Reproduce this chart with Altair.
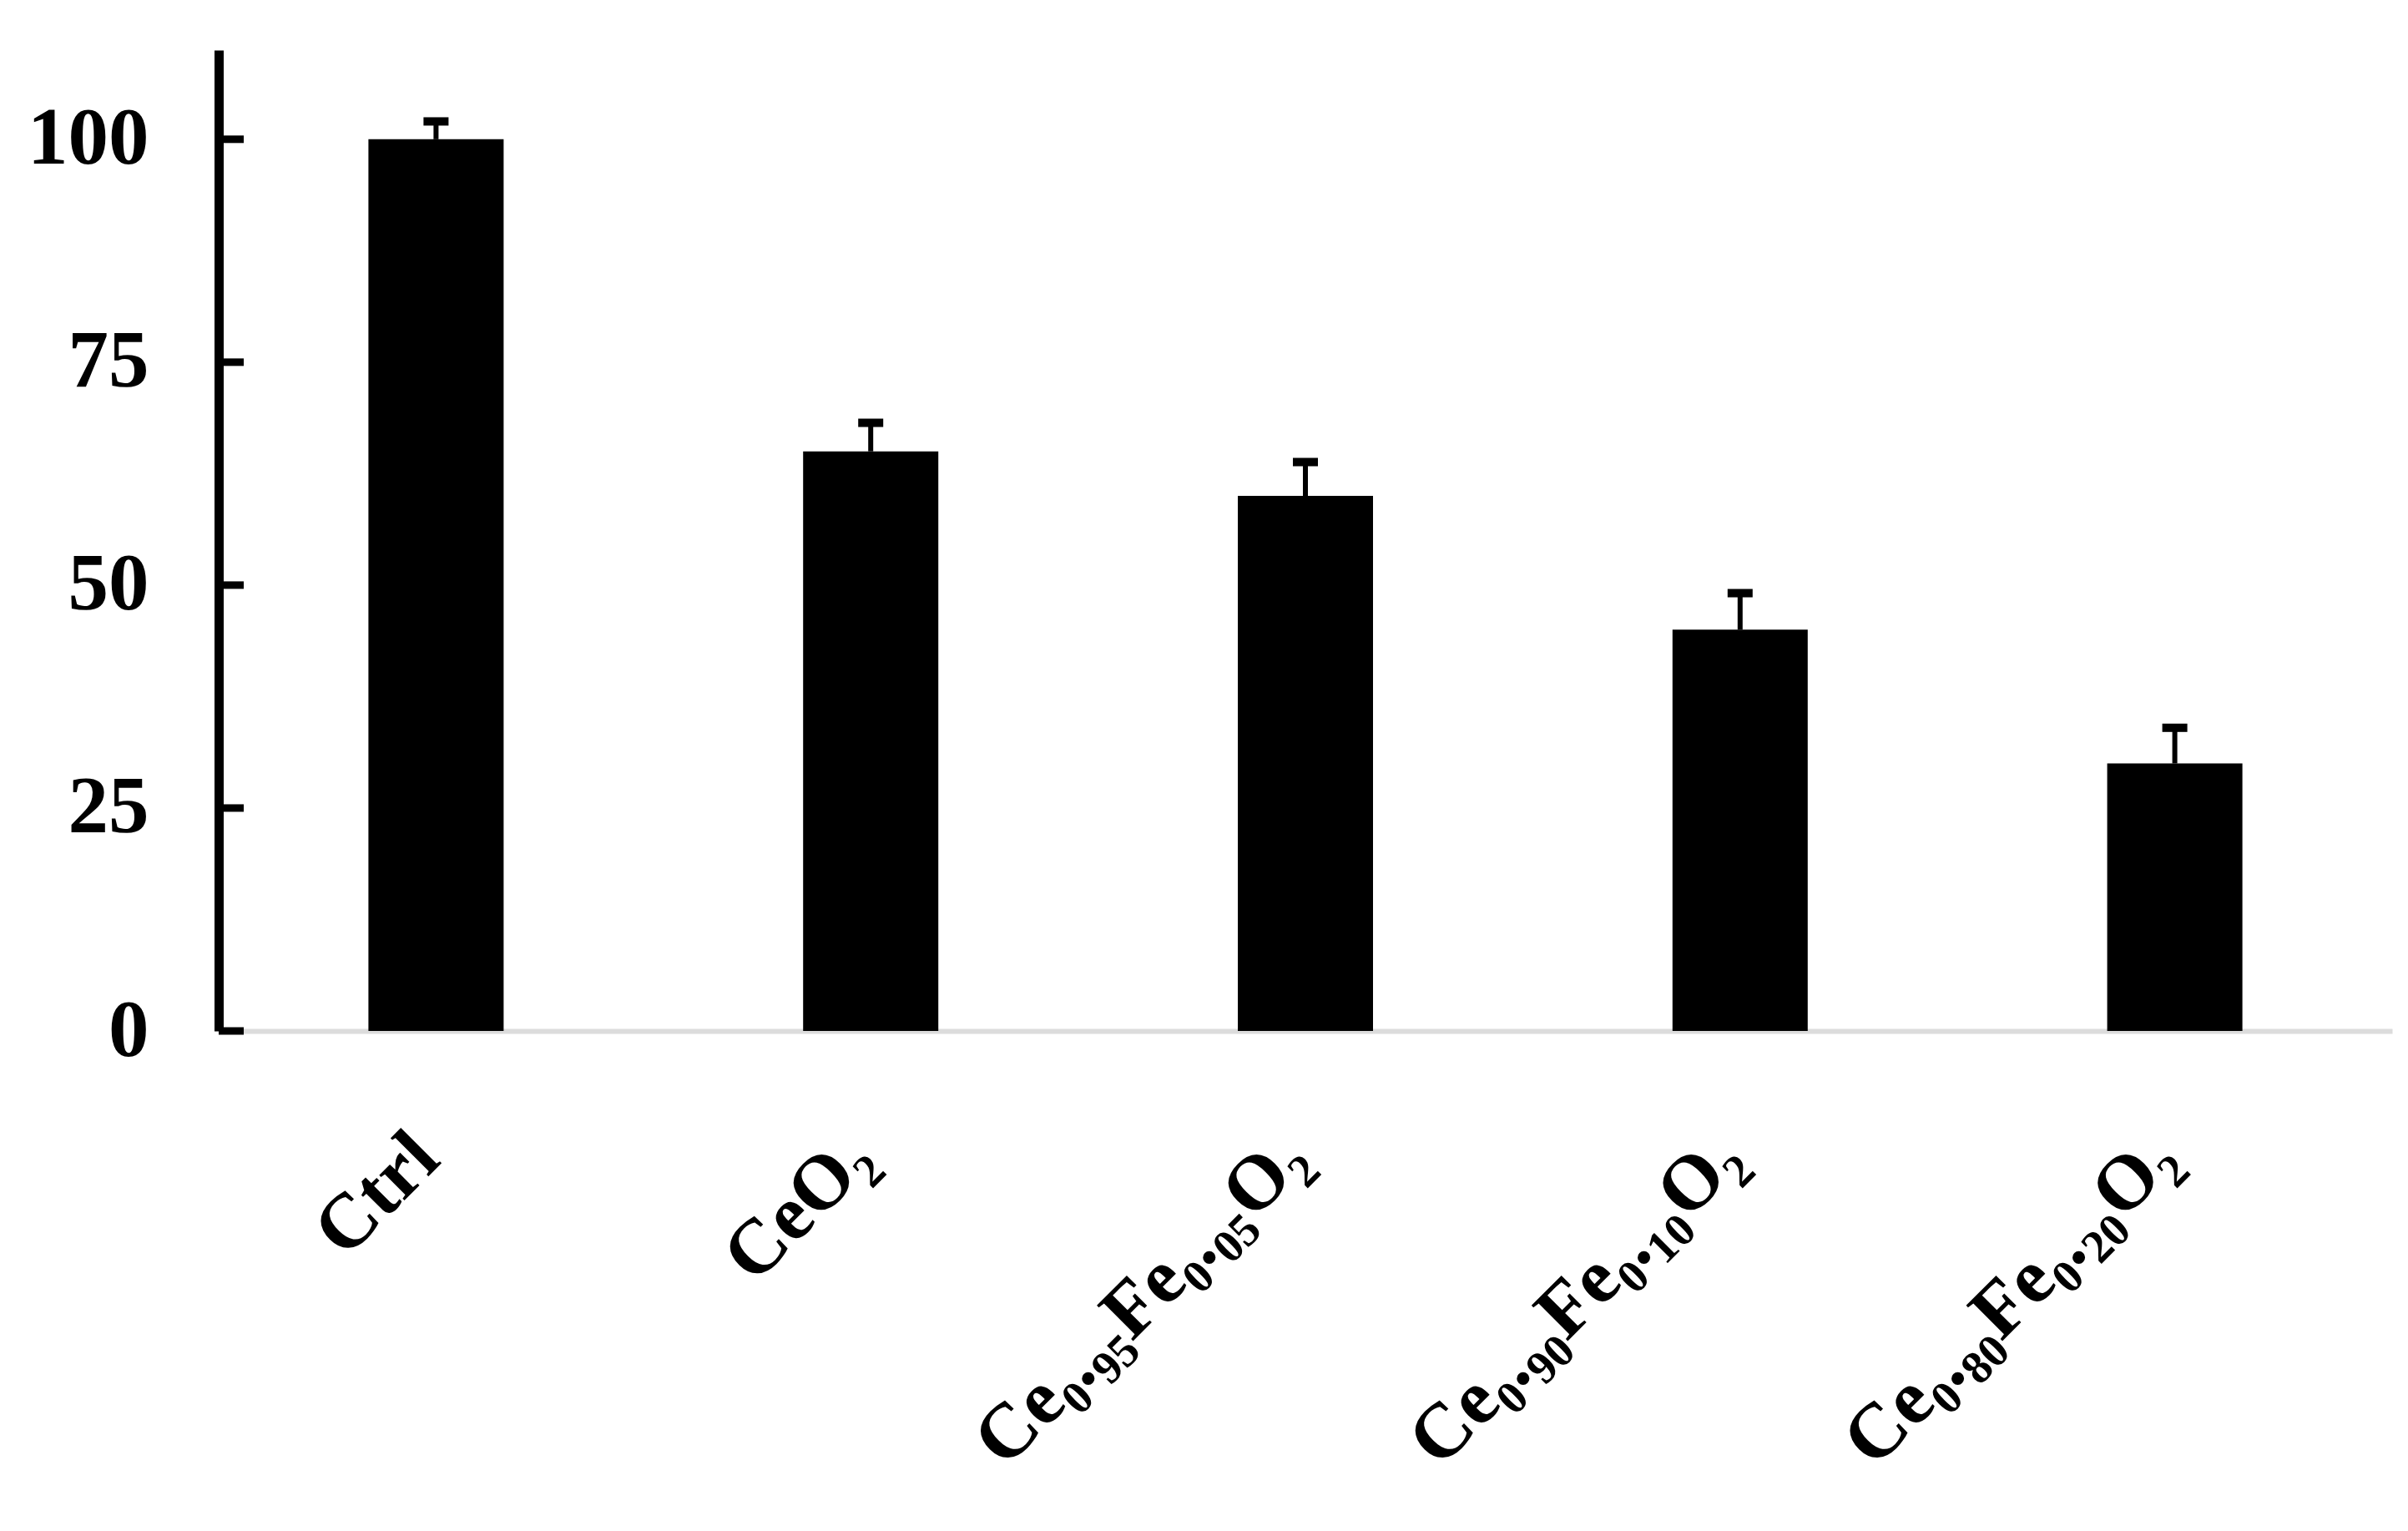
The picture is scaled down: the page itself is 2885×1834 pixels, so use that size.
import altair as alt
import pandas as pd

categories = ["Ctrl", "CeO₂", "Ce₀.₉₅Fe₀.₀₅O₂", "Ce₀.₉₀Fe₀.₁₀O₂", "Ce₀.₈₀Fe₀.₂₀O₂"]
values = [100, 65, 60, 45, 30]
upper = [102, 68.2, 63.8, 49.1, 34.0]
yticks = [0, 25, 50, 75, 100]

df = pd.DataFrame({"cat": categories, "v": values, "up": upper})
tdf = pd.DataFrame({"t": yticks})

FONT = "Liberation Serif, DejaVu Serif, serif"

xenc = alt.X("cat:N", sort=categories, title=None,
             scale=alt.Scale(paddingInner=0.69, paddingOuter=0.345),
             axis=alt.Axis(labelAngle=-45, labelFont=FONT, labelFontWeight="bold",
                           labelFontSize=93, labelColor="black", labelPadding=137,
                           labelOffset=-12,
                           labelLimit=2000, labelOverlap=False,
                           ticks=False, domainColor="#dcdcdc", domainWidth=6,
                           labelAlign="right", labelBaseline="middle"))
yscale = alt.Scale(domain=[0, 110], nice=False)
yenc = alt.Y("v:Q", scale=yscale, title=None,
             axis=alt.Axis(values=yticks, labelFont=FONT, labelFontWeight="bold",
                           labelFontSize=97, labelColor="black", labelPadding=84,
                           ticks=False, grid=False, domainColor="black", domainWidth=11))

bars = alt.Chart(df).mark_bar(color="black", size=162).encode(x=xenc, y=yenc)
err = alt.Chart(df).mark_rule(color="black", strokeWidth=6).encode(
    x=alt.X("cat:N", sort=categories), y=alt.Y("v:Q", scale=yscale), y2="up:Q")
cap = alt.Chart(df).mark_tick(color="black", size=30, thickness=10, opacity=1).encode(
    x=alt.X("cat:N", sort=categories), y=alt.Y("up:Q", scale=yscale))
ticks = alt.Chart(tdf).mark_rule(color="black", strokeWidth=9).encode(
    y=alt.Y("t:Q", scale=yscale), x=alt.value(0), x2=alt.value(30))

chart = alt.layer(bars, err, cap, ticks).properties(
    width=2604, height=1175,
    padding={"left": 24, "top": 52, "right": 10, "bottom": 10},
).configure(background="white").configure_view(stroke=None)

chart.save("out.html", embed_options={"renderer": "svg", "actions": False})
